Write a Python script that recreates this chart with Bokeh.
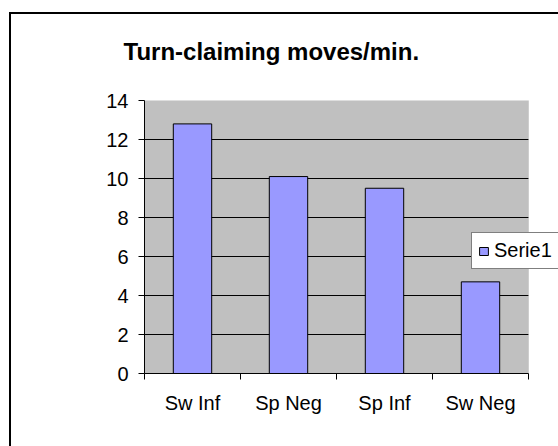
from bokeh.plotting import figure
from bokeh.models import (Range1d, LinearAxis, FixedTicker, Grid, Legend, LegendItem,
                          ColumnDataSource, InlineStyleSheet, BoxAnnotation)
from bokeh.embed import file_html
from bokeh.resources import INLINE

# ---- data ----
categories = ["Sw Inf", "Sp Neg", "Sp Inf", "Sw Neg"]
values = [12.8, 10.1, 9.5, 4.7]
series_name = "Serie1"
title_text = "Turn-claiming moves/min."
y_ticks = [0, 2, 4, 6, 8, 10, 12, 14]
y_max = 14

FONT = "Liberation Sans"

n = len(categories)
centers = [i + 0.5 for i in range(n)]
edges = list(range(n + 1))

# layout: plot area is 384 px wide, frame extends 30 px further right (room for legend)
PLOT_AREA_PX = 384
FRAME_PX = 414
x_end = n * FRAME_PX / PLOT_AREA_PX

source = ColumnDataSource(data=dict(x=centers, cat=categories, val=values))

p = figure(width=558, height=446,
           x_range=Range1d(0, x_end),
           y_range=Range1d(0, y_max),
           x_axis_type=None, y_axis_type=None,
           output_backend="svg", toolbar_location=None,
           min_border_left=144, min_border_right=0,
           min_border_top=98, min_border_bottom=73)

p.background_fill_color = "white"
p.border_fill_color = "white"
p.border_fill_alpha = 0
p.outline_line_color = None

# chart-area border (drawn as host background behind the transparent canvas)
p.stylesheets = [InlineStyleSheet(css=(
    ":host { background-color: white;"
    " background-image: linear-gradient(#000, #000), linear-gradient(#000, #000);"
    " background-position: 9px 12px, 9px 12px;"
    " background-size: 2px 100%, 100% 2px;"
    " background-repeat: no-repeat; }"
))]

# plot area (grey) fill
p.add_layout(BoxAnnotation(left=0, right=n, bottom=0, top=y_max,
                           fill_color="#C0C0C0", fill_alpha=1, line_color=None,
                           level="underlay"))

# title
p.title.text = title_text
p.title.text_font = FONT
p.title.text_font_size = "24px"
p.title.text_font_style = "bold"
p.title.text_color = "black"
p.title.align = "left"
p.title.offset = -21
p.title.standoff = 71

# y axis + grid
yaxis = LinearAxis(ticker=FixedTicker(ticks=y_ticks))
yaxis.axis_line_color = "black"
yaxis.major_tick_line_color = "black"
yaxis.major_tick_out = 6
yaxis.major_tick_in = 0
yaxis.minor_tick_line_color = None
yaxis.major_label_text_font = FONT
yaxis.major_label_text_font_size = "20px"
yaxis.major_label_text_color = "black"
yaxis.major_label_standoff = 10
p.add_layout(yaxis, "left")
p.add_layout(Grid(dimension=1, ticker=yaxis.ticker, grid_line_color="black",
                  grid_line_width=1, level="underlay"))

# cover grid lines to the right of the plot area, then the plot-area border
p.add_layout(BoxAnnotation(left=n, fill_color="white", fill_alpha=1, line_color=None,
                           level="underlay"))
p.add_layout(BoxAnnotation(left=0, right=n, bottom=0, top=y_max,
                           fill_alpha=0, line_color="#808080", line_width=1,
                           level="underlay"))

# x axis: labels at category centres, tick marks between categories
xaxis = LinearAxis(ticker=FixedTicker(ticks=centers, minor_ticks=edges), bounds=(0, n))
xaxis.major_label_overrides = {c: lab for c, lab in zip(centers, categories)}
xaxis.axis_line_color = "black"
xaxis.major_tick_line_color = None
xaxis.major_tick_out = 0
xaxis.major_tick_in = 0
xaxis.minor_tick_line_color = "black"
xaxis.minor_tick_out = 6
xaxis.minor_tick_in = 0
xaxis.major_label_text_font = FONT
xaxis.major_label_text_font_size = "20px"
xaxis.major_label_text_color = "black"
xaxis.major_label_standoff = 12
p.add_layout(xaxis, "below")

# bars
r = p.vbar(x="x", top="val", width=0.4, source=source,
           fill_color="#9999FF", line_color="black", line_width=1)

legend = Legend(items=[LegendItem(label=series_name, renderers=[r])],
                location=(327, 104))
legend.border_line_color = "black"
legend.border_line_width = 1
legend.background_fill_color = "white"
legend.background_fill_alpha = 1
legend.label_text_font = FONT
legend.label_text_font_size = "20px"
legend.label_text_color = "black"
legend.glyph_width = 11
legend.glyph_height = 10
legend.padding = 6
legend.margin = 0
legend.spacing = 0
legend.label_standoff = 5
legend.label_height = 20
p.add_layout(legend)

open("out.html", "w").write(file_html(p, INLINE))
